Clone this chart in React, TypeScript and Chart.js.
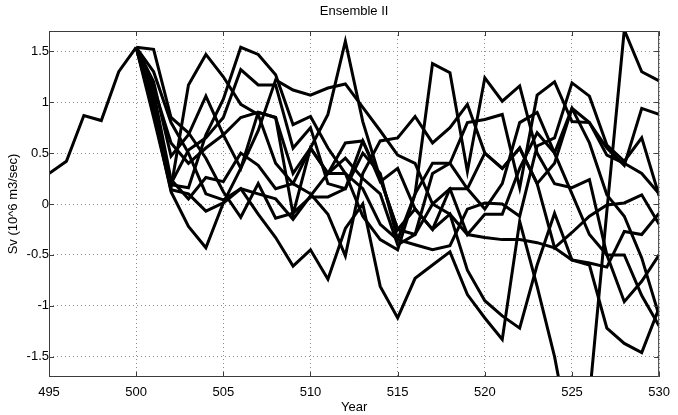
import React, { useEffect, useRef } from "react";
import { Chart, registerables } from "chart.js";

Chart.register(...registerables);

const TITLE = "Ensemble II";
const X_LABEL = "Year";
const Y_LABEL = "Sv (10^6 m3/sec)";

const X_TICKS = [495, 500, 505, 510, 515, 520, 525, 530];
const Y_TICKS = [-1.5, -1, -0.5, 0, 0.5, 1, 1.5];

const PRE_YEARS = [495, 496, 497, 498, 499, 500];
const PRE_VALUES = [0.3, 0.42, 0.87, 0.82, 1.3, 1.54];

const RUN_YEARS = [
  500, 501, 502, 503, 504, 505, 506, 507, 508, 509, 510, 511, 512, 513, 514, 515,
  516, 517, 518, 519, 520, 521, 522, 523, 524, 525, 526, 527, 528, 529, 530,
];

const RUN_1 = [1.54, 0.95, 0.16, 1.17, 1.47, 1.25, 0.98, 0.88, 0.4, 0.2, 0.55, 0.3, 0.45, 0.25, 0.1, -0.4, -0.3, 0.3, 0.4, 0.8, 0.83, 0.88, 0.16, 1.07, 1.2, 0.81, 0.8, 0.55, 0.38, 0.94, 0.88];
const RUN_2 = [1.54, 1.52, 0.85, 0.7, 0.45, 0.12, -0.13, 0.2, -0.14, -0.09, 0.07, 0.07, 0.15, 0.5, 0.3, -0.35, -0.4, -0.45, -0.41, -0.05, 0.01, 0.0, -0.12, 0.57, 0.65, 1.19, 1.06, 0.58, 0.42, 0.65, 0.08];
const RUN_3 = [1.54, 0.9, 0.12, -0.22, -0.43, 0.01, 0.15, -0.1, -0.33, -0.61, -0.45, -0.74, -0.24, 0.0, -0.81, -1.12, -0.73, -0.6, -0.47, -0.89, -1.12, -1.33, -0.17, -0.81, -1.5, -2.4, -1.9, -0.07, 1.71, 1.3, 1.21];
const RUN_4 = [1.54, 0.85, 0.14, 0.1, -0.07, 0.01, 0.35, 0.72, 1.22, 1.12, 1.07, 1.14, 1.18, 0.95, 0.72, 0.48, 0.4, 0.0, -0.1, -0.3, -0.33, -0.35, -0.35, -0.38, -0.43, -0.55, -0.58, -0.62, -0.27, -0.3, -0.09];
const RUN_5 = [1.54, 1.0, 0.19, 0.16, 0.68, 1.03, 1.54, 1.47, 1.27, 0.78, 0.86, 0.55, 0.3, -0.12, -0.35, -0.45, 0.1, 1.38, 1.29, 0.32, 1.24, 1.01, 1.16, 0.5, 0.2, 0.16, 0.24, -0.5, -0.96, -0.76, -0.5];
const RUN_6 = [1.54, 1.2, 0.47, 0.68, 1.06, 0.68, 0.85, 0.9, 0.85, 0.3, 0.55, 0.88, 1.6, 0.81, 0.25, -0.25, -0.05, -0.25, 0.15, 0.15, 0.5, 0.35, 0.55, 0.2, -0.43, -0.28, -0.12, -0.01, 0.01, 0.09, -0.2];
const RUN_7 = [1.54, 1.1, 0.24, 0.05, 0.26, 0.22, 0.5, 0.38, 0.15, 0.2, 0.1, -0.1, -0.51, 0.3, 0.62, 0.65, 0.86, 0.6, 0.75, 0.98, 0.5, 0.35, 0.55, 0.2, 0.4, 0.94, 0.6, 0.09, -0.12, -0.53, -1.1];
const RUN_8 = [1.54, 1.3, 0.8, 0.5, 0.1, 0.04, 0.15, 0.1, 0.05, -0.15, 0.08, 0.3, 0.6, 0.62, 0.22, 0.35, -0.05, -0.25, -0.1, -0.65, -0.95, -1.1, -1.22, -0.6, -0.09, -0.55, -0.6, -1.22, -1.37, -1.46, -1.02];
const RUN_9 = [1.54, 1.05, 0.2, 0.53, 0.65, 0.85, 1.32, 1.17, 1.17, 0.55, 0.75, 0.2, 0.15, 0.62, 0.25, -0.25, -0.3, 0.0, 0.15, -0.3, -0.1, -0.1, 0.35, 0.7, 0.5, 0.1, -0.3, -0.5, -0.5, -0.9, -1.2];
const RUN_10 = [1.54, 1.15, 0.6, 0.4, 0.55, 0.68, 0.35, 0.9, 0.85, -0.1, 0.55, 0.3, 0.3, 0.15, -0.2, -0.35, 0.1, 0.4, 0.4, 0.15, -0.05, 0.2, 0.8, 0.9, 0.5, 0.94, 0.8, 0.48, 0.4, 0.3, 0.1];

const RUNS = [RUN_1, RUN_2, RUN_3, RUN_4, RUN_5, RUN_6, RUN_7, RUN_8, RUN_9, RUN_10];

const FONT = "'Liberation Sans', Arial, Helvetica, sans-serif";
const LINE_COLOR = "#000000";
const FRAME_COLOR = "#3c3c3c";

const framePlugin = {
  id: "matlabFrame",
  afterDraw(chart: any) {
    const { ctx, chartArea } = chart;
    const { left, right, top, bottom } = chartArea;
    const xs = chart.scales.x;
    const ys = chart.scales.y;
    ctx.save();
    ctx.strokeStyle = FRAME_COLOR;
    ctx.lineWidth = 1;
    ctx.beginPath();
    ctx.rect(left + 0.5, top + 0.5, right - left - 1, bottom - top - 1);
    ctx.stroke();
    const tl = 5;
    ctx.beginPath();
    X_TICKS.forEach((v) => {
      const px = Math.round(xs.getPixelForValue(v)) + 0.5;
      ctx.moveTo(px, bottom);
      ctx.lineTo(px, bottom - tl);
      ctx.moveTo(px, top);
      ctx.lineTo(px, top + tl);
    });
    Y_TICKS.forEach((v) => {
      const py = Math.round(ys.getPixelForValue(v)) + 0.5;
      ctx.moveTo(left, py);
      ctx.lineTo(left + tl, py);
      ctx.moveTo(right, py);
      ctx.lineTo(right - tl, py);
    });
    ctx.stroke();

    ctx.fillStyle = "#000";
    ctx.font = `13px ${FONT}`;
    ctx.textAlign = "center";
    ctx.textBaseline = "middle";
    ctx.fillText(TITLE, (left + right) / 2, 11);
    ctx.fillText(X_LABEL, (left + right) / 2, 407);
    ctx.translate(13, (top + bottom) / 2);
    ctx.rotate(-Math.PI / 2);
    ctx.fillText(Y_LABEL, 0, 0);
    ctx.restore();
  },
};

export default function App() {
  const canvasRef = useRef<HTMLCanvasElement | null>(null);

  useEffect(() => {
    document.body.style.margin = "0";
    const canvas = canvasRef.current;
    if (!canvas) return;

    const datasets: any[] = [
      {
        data: PRE_YEARS.map((x, i) => ({ x, y: PRE_VALUES[i] })),
      },
      ...RUNS.map((run) => ({
        data: RUN_YEARS.map((x, i) => ({ x, y: run[i] })),
      })),
    ].map((d) => ({
      ...d,
      borderColor: LINE_COLOR,
      backgroundColor: LINE_COLOR,
      borderWidth: 3,
      pointRadius: 0,
      tension: 0,
      fill: false,
      clip: 0,
      borderJoinStyle: "miter",
    }));

    const chart = new Chart(canvas, {
      type: "line",
      data: { datasets },
      plugins: [framePlugin],
      options: {
        responsive: false,
        animation: false,
        layout: { padding: { top: 31, right: 17, left: 0, bottom: 0 } },
        plugins: {
          legend: { display: false },
          title: { display: false },
          tooltip: { enabled: false },
        },
        scales: {
          x: {
            type: "linear",
            min: 495,
            max: 530,
            afterBuildTicks: (scale: any) => {
              scale.ticks = X_TICKS.map((v) => ({ value: v }));
            },
            afterFit: (scale: any) => {
              scale.height = 38;
            },
            ticks: {
              color: "#000",
              font: { family: FONT, size: 13 },
              padding: 8,
              maxRotation: 0,
              autoSkip: false,
              callback: (v: any) => String(v),
            },
            grid: {
              color: "#8c8c8c",
              lineWidth: 1,
              drawTicks: false,
            },
            border: { display: false, dash: [1, 3] },
          },
          y: {
            type: "linear",
            min: -1.7,
            max: 1.7,
            afterBuildTicks: (scale: any) => {
              scale.ticks = Y_TICKS.map((v) => ({ value: v }));
            },
            afterFit: (scale: any) => {
              scale.width = 49;
            },
            ticks: {
              color: "#000",
              font: { family: FONT, size: 13 },
              padding: 0,
              autoSkip: false,
              callback: (v: any) => String(v),
            },
            grid: {
              color: "#8c8c8c",
              lineWidth: 1,
              drawTicks: false,
            },
            border: { display: false, dash: [1, 3] },
          },
        },
      },
    } as any);

    return () => chart.destroy();
  }, []);

  return (
    <div style={{ width: 678, height: 415 }}>
      <canvas ref={canvasRef} width={678} height={415} />
    </div>
  );
}
